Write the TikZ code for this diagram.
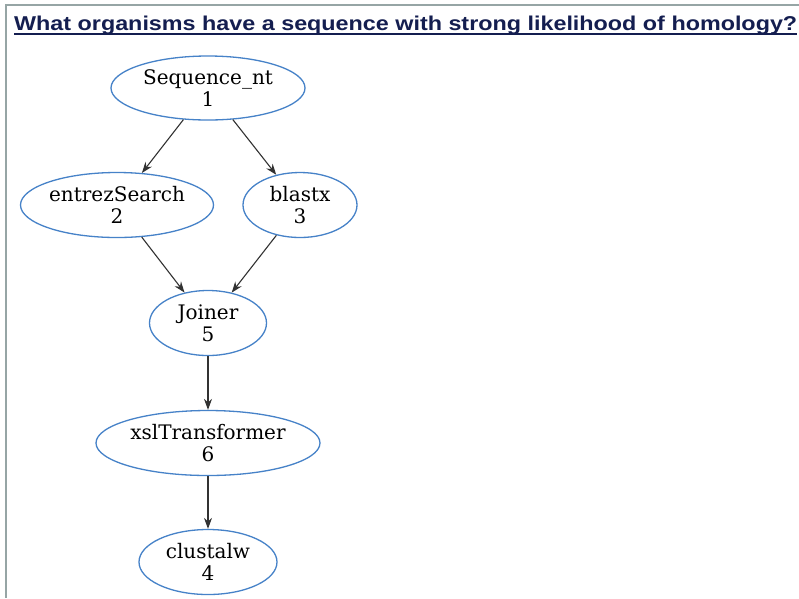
\documentclass[tikz,border=0pt]{standalone}
\usepackage{fontspec}
\setmainfont{DejaVu Serif}
\newfontfamily\titlefont{Liberation Sans}
\usetikzlibrary{shapes.geometric,arrows.meta}
\definecolor{ellblue}{RGB}{70,130,200}
\definecolor{titlenavy}{RGB}{20,30,80}
\definecolor{framegray}{RGB}{150,165,165}
\definecolor{edgegray}{RGB}{50,50,50}
\tikzset{
  ell/.style={ellipse, draw=ellblue, line width=1.3pt, inner sep=0pt, align=center,
    font=\fontsize{20}{22}\selectfont, text=black},
  edge/.style={draw=edgegray, line width=1.1pt, -{Stealth[length=11pt,width=8pt]}}
}
\begin{document}
\begin{tikzpicture}[x=1pt,y=-1pt]
\useasboundingbox (0,0) rectangle (799,598);
\fill[white] (0,0) rectangle (799,598);
% frame
\draw[framegray, line width=2.5pt] (5,5) -- (799,5);
\draw[framegray, line width=2.5pt] (6,5) -- (6,598);
% title
\node[anchor=base west, inner sep=0pt, text=titlenavy] (title) at (14,30)
  {\resizebox{783pt}{\height}{\titlefont\fontsize{20}{22}\selectfont\bfseries What organisms have a sequence with strong likelihood of homology?}};
\coordinate (ulA) at (14,34);
\coordinate (ulB) at (797,34);
\draw[titlenavy, line width=1.4pt] (ulA) -- (ulB);
% nodes
\node[ell, minimum width=194pt, minimum height=64pt] (n1) at (208,88) {Sequence\_nt\\1};
\node[ell, minimum width=193pt, minimum height=65pt] (n2) at (117,205) {entrezSearch\\2};
\node[ell, minimum width=114pt, minimum height=65pt] (n3) at (300,205) {blastx\\3};
\node[ell, minimum width=117pt, minimum height=65pt] (n5) at (208,323) {Joiner\\5};
\node[ell, minimum width=224pt, minimum height=65pt] (n6) at (208,443) {xslTransformer\\6};
\node[ell, minimum width=138pt, minimum height=65pt] (n4) at (208,562) {clustalw\\4};
% edges
\draw[edge] (n1) -- (n2);
\draw[edge] (n1) -- (n3);
\draw[edge] (n2) -- (n5);
\draw[edge] (n3) -- (n5);
\draw[edge] (n5) -- (n6);
\draw[edge] (n6) -- (n4);
\end{tikzpicture}
\end{document}
